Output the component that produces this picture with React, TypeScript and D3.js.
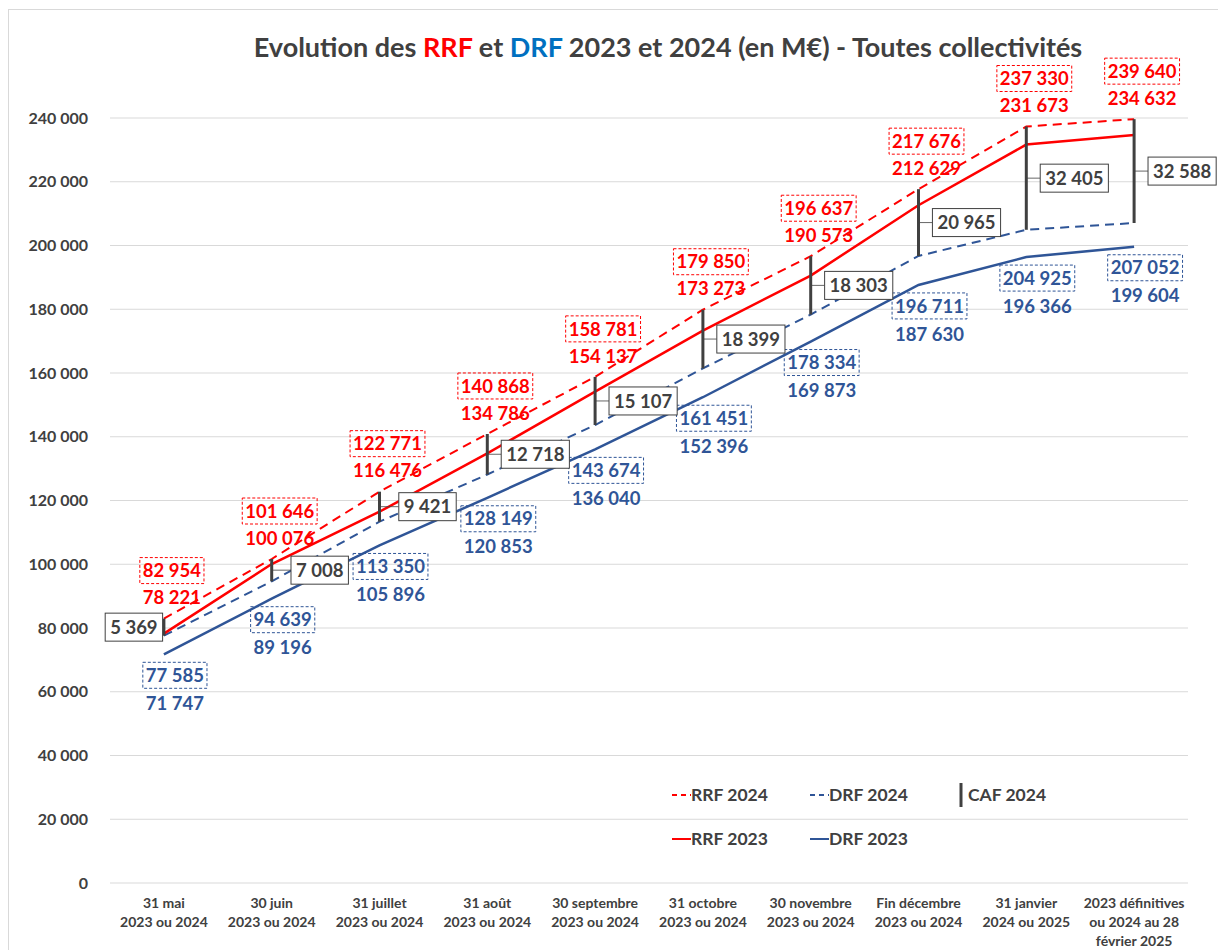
import React, { useEffect, useRef } from "react";
import * as d3 from "d3";

// Catégories (axe X), chaque libellé sur plusieurs lignes
const categories = [
    ["31 mai", "2023 ou 2024"],
    ["30 juin", "2023 ou 2024"],
    ["31 juillet", "2023 ou 2024"],
    ["31 août", "2023 ou 2024"],
    ["30 septembre", "2023 ou 2024"],
    ["31 octobre", "2023 ou 2024"],
    ["30 novembre", "2023 ou 2024"],
    ["Fin décembre", "2023 ou 2024"],
    ["31 janvier", "2024 ou 2025"],
    ["2023 définitives", "ou 2024 au 28", "février 2025"],
];

const rrf2024 = [82954, 101646, 122771, 140868, 158781, 179850, 196637, 217676, 237330, 239640];
const rrf2023 = [78221, 100076, 116476, 134786, 154137, 173273, 190573, 212629, 231673, 234632];
const drf2024 = [77585, 94639, 113350, 128149, 143674, 161451, 178334, 196711, 204925, 207052];
const drf2023 = [71747, 89196, 105896, 120853, 136040, 152396, 169873, 187630, 196366, 199604];
const caf2024 = [5369, 7008, 9421, 12718, 15107, 18399, 18303, 20965, 32405, 32588];

const yTicks = [0, 20000, 40000, 60000, 80000, 100000, 120000, 140000, 160000, 180000, 200000, 220000, 240000];

const RED = "#ff0000";
const BLUE = "#2f5597";
const GREY = "#404040";
const FONT = "Lato, 'DejaVu Sans', sans-serif";

const fmt = (v: number) => d3.format(",")(v).replace(/,/g, " ");

const App = () => {
    const svgRef = useRef<SVGSVGElement>(null);

    useEffect(() => {
        const width = 1218;
        const height = 950;

        const svg = d3.select(svgRef.current);
        svg.selectAll("*").remove();
        svg.attr("width", width).attr("height", height);

        svg.append("rect")
            .attr("width", width).attr("height", height).attr("fill", "#fff");
        // cadre du graphique
        svg.append("rect")
            .attr("x", 8.5).attr("y", 9.5)
            .attr("width", width + 20).attr("height", height + 20)
            .attr("fill", "none").attr("stroke", "#d9d9d9");

        const x = d3.scaleBand<number>()
            .domain(d3.range(categories.length))
            .range([110, 1188]);
        const cx = (i: number) => (x(i) as number) + x.bandwidth() / 2;

        const y = d3.scaleLinear().domain([0, 240000]).range([883, 118]);

        // Titre
        const title = svg.append("text")
            .attr("x", 668).attr("y", 57)
            .attr("text-anchor", "middle")
            .attr("font-family", FONT).attr("font-weight", 700)
            .attr("font-size", 27).attr("fill", GREY);
        title.append("tspan").text("Evolution des ");
        title.append("tspan").attr("fill", RED).text("RRF");
        title.append("tspan").text(" et ");
        title.append("tspan").attr("fill", "#0070c0").text("DRF");
        title.append("tspan").text(" 2023 et 2024 (en M€) - Toutes collectivités");

        // Grille + graduations
        svg.append("g").selectAll("line")
            .data(yTicks)
            .join("line")
            .attr("x1", 110).attr("x2", 1188)
            .attr("y1", d => y(d)).attr("y2", d => y(d))
            .attr("stroke", "#d9d9d9").attr("stroke-width", 1);

        svg.append("g").selectAll("text")
            .data(yTicks)
            .join("text")
            .attr("x", 88).attr("y", d => y(d))
            .attr("dy", "0.35em")
            .attr("text-anchor", "end")
            .attr("font-family", FONT).attr("font-weight", 700)
            .attr("font-size", 16).attr("fill", GREY)
            .text(d => fmt(d));

        // Libellés X
        const xl = svg.append("g").selectAll("text")
            .data(categories)
            .join("text")
            .attr("x", (_, i) => cx(i))
            .attr("y", 908)
            .attr("text-anchor", "middle")
            .attr("font-family", FONT).attr("font-weight", 700)
            .attr("font-size", 14).attr("fill", GREY);
        xl.selectAll("tspan")
            .data(d => d)
            .join("tspan")
            .attr("x", function () { return (this.parentNode as SVGTextElement).getAttribute("x"); })
            .attr("dy", (_, j) => (j === 0 ? 0 : 19))
            .text(d => d);

        // Courbes
        const line = d3.line<number>().x((_, i) => cx(i)).y(d => y(d));
        const series = [
            { data: rrf2024, color: RED, dash: "9 6", w: 2 },
            { data: drf2024, color: BLUE, dash: "9 6", w: 2 },
            { data: rrf2023, color: RED, dash: null, w: 2.5 },
            { data: drf2023, color: BLUE, dash: null, w: 2.5 },
        ];
        series.forEach(s => {
            svg.append("path")
                .datum(s.data)
                .attr("d", line)
                .attr("fill", "none")
                .attr("stroke", s.color)
                .attr("stroke-width", s.w)
                .attr("stroke-dasharray", s.dash);
        });

        // Barres CAF (de DRF 2024 à RRF 2024)
        svg.append("g").selectAll("line")
            .data(caf2024)
            .join("line")
            .attr("x1", (_, i) => cx(i)).attr("x2", (_, i) => cx(i))
            .attr("y1", (_, i) => y(drf2024[i])).attr("y2", (_, i) => y(rrf2024[i]))
            .attr("stroke", GREY).attr("stroke-width", 3);

        const labels = svg.append("g");

        // étiquette avec cadre mesuré
        const boxLabel = (px: number, py: number, txt: string, color: string, boxStroke: string | null, dashed: boolean, fill: string | null, padX: number, h: number) => {
            const g = labels.append("g");
            const t = g.append("text")
                .attr("x", px).attr("y", py).attr("dy", "0.36em")
                .attr("text-anchor", "middle")
                .attr("font-family", FONT).attr("font-weight", 700)
                .attr("font-size", 18.5).attr("fill", color)
                .text(txt);
            const w = (t.node() as SVGTextElement).getComputedTextLength() + padX * 2;
            if (boxStroke) {
                g.insert("rect", "text")
                    .attr("x", px - w / 2).attr("y", py - h / 2)
                    .attr("width", w).attr("height", h)
                    .attr("fill", fill || "none")
                    .attr("stroke", boxStroke).attr("stroke-width", 1)
                    .attr("stroke-dasharray", dashed ? "3 2" : null);
            }
            return w;
        };

        categories.forEach((_, i) => {
            const px = cx(i);
            // RRF
            const ry = y(rrf2024[i]) - 48;
            boxLabel(px + 8, ry, fmt(rrf2024[i]), RED, RED, true, null, 3, 26);
            boxLabel(px + 8, ry + 27, fmt(rrf2023[i]), RED, null, false, null, 0, 0);
            // DRF
            const dy = y(drf2023[i]) + 21;
            boxLabel(px + 11, dy, fmt(drf2024[i]), BLUE, BLUE, true, null, 3, 26);
            boxLabel(px + 11, dy + 28, fmt(drf2023[i]), BLUE, null, false, null, 0, 0);
        });

        // Étiquettes CAF avec ligne de rappel
        caf2024.forEach((v, i) => {
            const px = cx(i);
            const mid = (y(drf2024[i]) + y(rrf2024[i])) / 2;
            const left = i === 0;
            const bx = left ? px - 30 : px + 48;
            const lead = labels.append("line")
                .attr("stroke", GREY).attr("stroke-width", 0.8);
            const w = boxLabel(bx, mid, fmt(v), GREY, GREY, false, "#fff", 5, 28);
            lead.attr("x1", px).attr("y1", mid)
                .attr("x2", left ? bx + w / 2 : bx - w / 2).attr("y2", mid);
        });

        // Légende
        const legend = svg.append("g")
            .attr("font-family", FONT).attr("font-weight", 700)
            .attr("font-size", 17.5).attr("fill", GREY);
        const legendItems = [
            { label: "RRF 2024", color: RED, dash: "5 4", col: 0, row: 0 },
            { label: "DRF 2024", color: BLUE, dash: "5 4", col: 1, row: 0 },
            { label: "RRF 2023", color: RED, dash: null, col: 0, row: 1 },
            { label: "DRF 2023", color: BLUE, dash: null, col: 1, row: 1 },
        ];
        legendItems.forEach(it => {
            const lx = 672 + it.col * 138;
            const ly = 795 + it.row * 44;
            legend.append("line")
                .attr("x1", lx).attr("x2", lx + 19)
                .attr("y1", ly).attr("y2", ly)
                .attr("stroke", it.color).attr("stroke-width", 2)
                .attr("stroke-dasharray", it.dash);
            legend.append("text")
                .attr("x", lx + 19).attr("y", ly).attr("dy", "0.36em")
                .text(it.label);
        });
        legend.append("line")
            .attr("x1", 961).attr("x2", 961)
            .attr("y1", 783).attr("y2", 807)
            .attr("stroke", GREY).attr("stroke-width", 3);
        legend.append("text")
            .attr("x", 968).attr("y", 795).attr("dy", "0.36em")
            .text("CAF 2024");
    }, []);

    return (
        <svg ref={svgRef} style={{ position: "absolute", left: 0, top: 0 }}></svg>
    );
};

export default App;
